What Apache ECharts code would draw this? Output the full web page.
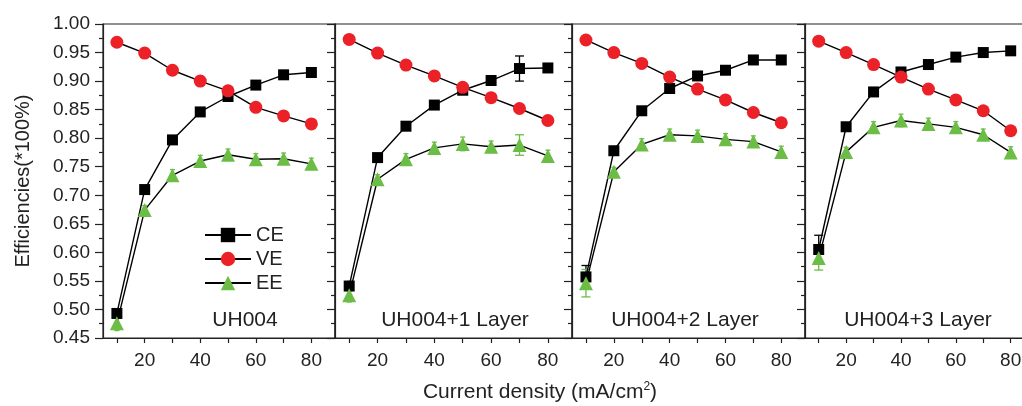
<!DOCTYPE html>
<html>
<head>
<meta charset="utf-8">
<script src="https://cdn.jsdelivr.net/npm/echarts@6/dist/echarts.min.js"></script>
<style>html,body{margin:0;padding:0;background:#fff}#c{width:1022px;height:406px}</style>
</head>
<body>
<div id="c"></div>
<script>
const xValues = [10, 20, 30, 40, 50, 60, 70, 80];
const xTickValues = [10, 20, 30, 40, 50, 60, 70, 80];
const xLabelValues = [20, 40, 60, 80];
const panelNames = ['UH004', 'UH004+1 Layer', 'UH004+2 Layer', 'UH004+3 Layer'];
const seriesNames = ['CE', 'VE', 'EE'];

const ce1 = [0.493, 0.710, 0.797, 0.846, 0.873, 0.893, 0.911, 0.915];
const ve1 = [0.968, 0.949, 0.919, 0.900, 0.883, 0.854, 0.839, 0.825];
const ee1 = [0.476, 0.674, 0.735, 0.760, 0.771, 0.763, 0.764, 0.755];
const ce2 = [0.541, 0.766, 0.821, 0.858, 0.884, 0.901, 0.922, 0.923];
const ve2 = [0.973, 0.949, 0.928, 0.909, 0.889, 0.871, 0.852, 0.831];
const ee2 = [0.525, 0.728, 0.763, 0.783, 0.790, 0.785, 0.788, 0.769];
const ce3 = [0.557, 0.778, 0.848, 0.887, 0.909, 0.919, 0.937, 0.937];
const ve3 = [0.972, 0.950, 0.931, 0.907, 0.886, 0.867, 0.845, 0.827];
const ee3 = [0.546, 0.741, 0.789, 0.806, 0.804, 0.798, 0.794, 0.776];
const ce4 = [0.605, 0.820, 0.881, 0.916, 0.929, 0.942, 0.950, 0.953];
const ve4 = [0.970, 0.950, 0.929, 0.907, 0.886, 0.867, 0.848, 0.813];
const ee4 = [0.590, 0.776, 0.819, 0.831, 0.825, 0.819, 0.806, 0.775];

const ceErr1 = [0.006, 0, 0, 0, 0, 0, 0, 0];
const ceErr2 = [0.008, 0, 0, 0, 0, 0, 0.022, 0];
const ceErr3 = [0.020, 0, 0, 0, 0, 0, 0, 0];
const ceErr4 = [0.025, 0, 0, 0, 0, 0, 0, 0];
const eeErr1 = [0.013, 0.008, 0.010, 0.010, 0.010, 0.010, 0.010, 0.010];
const eeErr2 = [0.012, 0.008, 0.010, 0.010, 0.012, 0.010, 0.018, 0.010];
const eeErr3 = [0.024, 0.008, 0.010, 0.010, 0.010, 0.010, 0.010, 0.010];
const eeErr4 = [0.021, 0.008, 0.010, 0.011, 0.010, 0.010, 0.010, 0.010];

const yMin = 0.45, yMax = 1.00, yInterval = 0.05;

const panels = [
  {ce: ce1, ve: ve1, ee: ee1, ceErr: ceErr1, eeErr: eeErr1},
  {ce: ce2, ve: ve2, ee: ee2, ceErr: ceErr2, eeErr: eeErr2},
  {ce: ce3, ve: ve3, ee: ee3, ceErr: ceErr3, eeErr: eeErr3},
  {ce: ce4, ve: ve4, ee: ee4, ceErr: ceErr4, eeErr: eeErr4}
];

const FONT = '"Liberation Sans", Arial, sans-serif';
const RED = '#ec2027', GREEN = '#6cbd45', BLACK = '#000';
const gridLefts = [103, 335, 572, 805];
const gridWidths = [232, 237, 233, 229];

const chart = echarts.init(document.getElementById('c'), null, {renderer: 'canvas'});

const grids = [], xAxes = [], yAxes = [], series = [];
panels.forEach((p, i) => {
  grids.push({left: gridLefts[i], width: gridWidths[i], top: 24, height: 314,
    outerBoundsMode: 'none', containLabel: false,
    show: true, borderColor: '#222', borderWidth: 1.2, backgroundColor: 'transparent'});
  xAxes.push({type: 'value', gridIndex: i, min: 5, max: 88.5,
    axisLine: {show: true, onZero: false, lineStyle: {color: '#222', width: 1.2}},
    axisTick: {show: true, inside: false, length: 5, customValues: xTickValues, lineStyle: {color: '#222', width: 1.2}},
    axisLabel: {show: true, customValues: xLabelValues, fontSize: 19, color: '#222', fontFamily: FONT, margin: 13},
    splitLine: {show: false}});
  yAxes.push({type: 'value', gridIndex: i, min: yMin, max: yMax, interval: yInterval,
    name: i === 0 ? 'Efficiencies(*100%)' : '', nameLocation: 'middle', nameRotate: 90, nameGap: 70,
    nameTextStyle: {fontSize: 20, color: '#222', fontFamily: FONT},
    axisLine: {show: true, lineStyle: {color: '#222', width: 1.2}},
    axisTick: {show: true, inside: false, length: 8, lineStyle: {color: '#222', width: 1.2}},
    minorTick: {show: true, splitNumber: 2, length: 4, lineStyle: {color: '#222', width: 1.2}},
    axisLabel: {show: i === 0, fontSize: 19, color: '#222', fontFamily: FONT, margin: 13,
      formatter: v => v.toFixed(2)},
    splitLine: {show: false}, minorSplitLine: {show: false}});

  const mk = (arr) => arr.map((v, k) => [xValues[k], v]);
  const errData = (vals, errs) => vals.map((v, k) => [xValues[k], v - errs[k], v + errs[k]]);
  const errSeries = (vals, errs, color) => ({
    type: 'custom', xAxisIndex: i, yAxisIndex: i, z: 1, silent: true,
    data: errData(vals, errs).filter(d => d[2] - d[1] > 0),
    renderItem: (params, api) => {
      const lo = api.coord([api.value(0), api.value(1)]);
      const hi = api.coord([api.value(0), api.value(2)]);
      const hw = Math.abs(lo[1] - hi[1]) > 16 ? 4.5 : 2.5;
      const st = {stroke: color, lineWidth: 1.3};
      return {type: 'group', children: [
        {type: 'line', shape: {x1: lo[0], y1: lo[1], x2: hi[0], y2: hi[1]}, style: st},
        {type: 'line', shape: {x1: lo[0] - hw, y1: lo[1], x2: lo[0] + hw, y2: lo[1]}, style: st},
        {type: 'line', shape: {x1: hi[0] - hw, y1: hi[1], x2: hi[0] + hw, y2: hi[1]}, style: st}
      ]};
    }
  });
  series.push(errSeries(p.ce, p.ceErr, BLACK));
  series.push(errSeries(p.ee, p.eeErr, GREEN));
  const lineBase = {type: 'line', xAxisIndex: i, yAxisIndex: i, z: 3, animation: false,
    lineStyle: {color: BLACK, width: 1.4}, emphasis: {disabled: true}};
  series.push(Object.assign({}, lineBase, {name: 'CE', data: mk(p.ce), symbol: 'rect', symbolSize: 11,
    itemStyle: {color: BLACK}}));
  series.push(Object.assign({}, lineBase, {name: 'VE', data: mk(p.ve), symbol: 'circle', symbolSize: 13,
    itemStyle: {color: RED}}));
  series.push(Object.assign({}, lineBase, {name: 'EE', data: mk(p.ee), symbol: 'triangle', symbolSize: 14,
    itemStyle: {color: GREEN}}));
});

const labelCenters = [245, 455, 685, 918];
const graphics = panelNames.map((t, i) => ({
  type: 'text', x: labelCenters[i], y: 310, z: 10,
  style: {text: t, fontSize: 21, fill: '#222', fontFamily: FONT, textAlign: 'center'}
}));
graphics.push({type: 'text', x: 540, y: 381, z: 10,
  style: {text: '{a|Current density (mA/cm}{s|2}{a|)}', textAlign: 'center', fontFamily: FONT,
    rich: {a: {fontSize: 21, fill: '#222', fontFamily: FONT},
           s: {fontSize: 12, fill: '#222', fontFamily: FONT, verticalAlign: 'top', padding: [0, 0, 10, 0]}}}});

chart.setOption({
  animation: false,
  backgroundColor: '#fff',
  grid: grids, xAxis: xAxes, yAxis: yAxes, series: series,
  legend: {data: seriesNames, orient: 'vertical', left: 199, top: 220, itemWidth: 46, itemHeight: 18,
    itemGap: 4, textStyle: {fontSize: 20, color: '#222', fontFamily: FONT}, selectedMode: false},
  graphic: graphics
});
</script>
</body>
</html>
